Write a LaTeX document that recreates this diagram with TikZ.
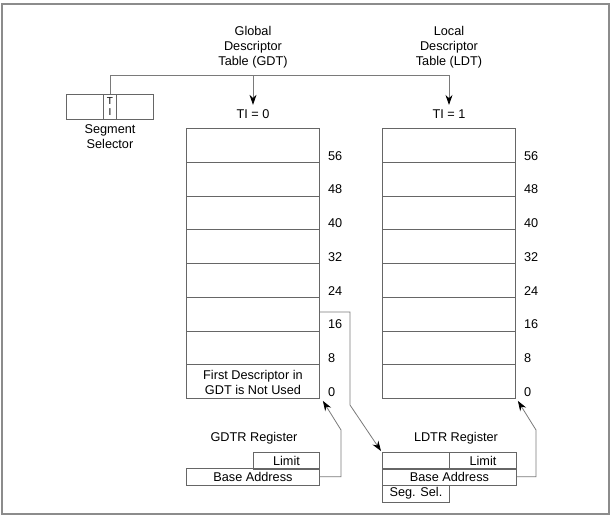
\documentclass[tikz,border=0pt]{standalone}
\usepackage{fontspec}
\setmainfont{Liberation Sans}
\usetikzlibrary{arrows.meta}
\definecolor{edge}{HTML}{666666}
\definecolor{wire}{HTML}{7a7a7a}
\definecolor{frame}{HTML}{8c8c8c}
\begin{document}
\begin{tikzpicture}[x=1pt,y=-1pt,
  every node/.style={font=\fontsize{12.7}{15}\selectfont, inner sep=0pt, align=center},
  cell/.style={draw=edge, line width=0.9pt, minimum width=133pt, minimum height=33.75pt, anchor=north west},
  regbox/.style={draw=edge, line width=0.9pt, minimum height=16.5pt, anchor=north west},
  tag/.style={anchor=west},
  wireline/.style={draw=wire, line width=0.8pt},
  arr/.style={wireline, -{Stealth[length=10pt,width=7pt,color=black]}},
]
\useasboundingbox (0,0) rectangle (614,520);
% outer frame
\draw[frame, line width=1.2pt] (2,4) rectangle (609,514);

% table titles
\node (gtitle) at (253,47.5) {Global\\Descriptor\\Table (GDT)};
\node (ltitle) at (449,47.5) {Local\\Descriptor\\Table (LDT)};

% segment selector
\node[regbox, minimum width=87pt, minimum height=25pt] (ss) at (66,94) {};
\node[draw=edge, line width=0.9pt, minimum width=12.5pt, minimum height=25pt,
      font=\fontsize{10}{11}\selectfont] (ti) at (110,106.5) {T\\I};
\node (sslabel) at (110,137) {Segment\\Selector};

% table indicator branches
\coordinate (jg) at (253,75);
\coordinate (jl) at (449,75);
\node (tig) at (253,114.5) {TI = 0};
\node (til) at (449,114.5) {TI = 1};
\draw[wireline] (ti.north) |- (jl);
\draw[arr] (jg) -- ([yshift=5pt]tig.north);
\draw[arr] (jl) -- ([yshift=5pt]til.north);

% GDT rows and offsets
\foreach \i/\lab in {0/0,1/8,2/16,3/24,4/32,5/40,6/48,7/56}{
  \node[cell] (g\i) at (186,{398-33.75*(\i+1)}) {};
  \node[tag] (gl\i) at ([xshift=8pt,yshift=7pt]g\i.south east) {\lab};
}
\node at ([yshift=-1pt]g0.center) {First Descriptor in\\GDT is Not Used};

% LDT rows and offsets
\foreach \i/\lab in {0/0,1/8,2/16,3/24,4/32,5/40,6/48,7/56}{
  \node[cell] (l\i) at (382,{398-33.75*(\i+1)}) {};
  \node[tag] (ll\i) at ([xshift=8pt,yshift=7pt]l\i.south east) {\lab};
}

% GDTR register
\node (gregname) at (254,438) {GDTR Register};
\node[regbox, minimum width=66pt] (glimit) at (253,452) {Limit};
\node[regbox, minimum width=133pt] (gbase) at (186,468) {Base Address};

% LDTR register
\node (lregname) at (456,438) {LDTR Register};
\node[regbox, minimum width=67pt] (lblank) at (382,452) {};
\node[regbox, minimum width=67pt] (llimit) at (449,452) {Limit};
\node[regbox, minimum width=134pt] (lbase) at (382,468) {Base Address};
\node[regbox, minimum width=67pt] (lsel) at (382,485) {Seg. Sel.};

% connectors
\coordinate (b16) at (350,405);
\draw[arr] ([yshift=2pt]g2.east) -| (b16) -- ([shift={(-1pt,1pt)}]lblank.north west);
\coordinate (gup) at (341,430);
\draw[arr] (gbase.east) -| (gup) -- ([shift={(3pt,-2pt)}]g0.south east);
\coordinate (lup) at (536,430);
\draw[arr] (lbase.east) -| (lup) -- ([shift={(2pt,-2pt)}]l0.south east);
\end{tikzpicture}
\end{document}
